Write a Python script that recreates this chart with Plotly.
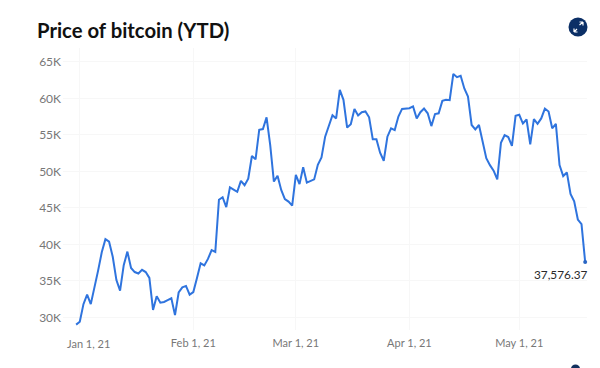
import plotly.graph_objects as go
import pandas as pd

W, H = 600, 368
L, R, T, B = 63, 13, 48, 38

start_date = "2020-12-31"
prices = [29000, 29400, 31800, 33100, 31800, 34000, 36400, 38900, 40700, 40360,
          38300, 35100, 33650, 37150, 39000, 36750, 36200, 36000, 36500, 36200,
          35400, 31000, 32900, 32000, 32100, 32350, 32600, 30300, 33400, 34100,
          34300, 33100, 33450, 35400, 37400, 37100, 38000, 39200, 38950, 46100,
          46450, 45100, 47800, 47500, 47200, 48700, 48100, 49000, 52100, 51650,
          55700, 55800, 57400, 53600, 48600, 49400, 47450, 46200, 45850, 45300,
          49500, 48250, 50550, 48450, 48700, 48900, 50900, 51900, 54750, 56100,
          57700, 57250, 61150, 59800, 56000, 56450, 58550, 57650, 58100, 58200,
          57400, 54400, 54400, 52550, 51450, 54750, 55900, 55650, 57500, 58550,
          58600, 58650, 58900, 57250, 58100, 58600, 57950, 56200, 57850, 57950,
          59650, 59800, 59750, 63350, 62900, 63100, 61350, 60250, 56350, 55750,
          56350, 53850, 51800, 50850, 50100, 48900, 53900, 54950, 54700, 53500,
          57600, 57750, 56550, 57100, 53700, 57150, 56500, 57250, 58600, 58200,
          55900, 56500, 50850, 49350, 49850, 46900, 45900, 43400, 42750, 37576.37]

dates = pd.date_range(start_date, periods=len(prices), freq="D")

title_text = "Price of bitcoin (YTD)"
y_ticks = [30000, 35000, 40000, 45000, 50000, 55000, 60000, 65000]
y_labels = ["30K", "35K", "40K", "45K", "50K", "55K", "60K", "65K"]
x_ticks = ["2021-01-01", "2021-02-01", "2021-03-01", "2021-04-01", "2021-05-01"]
x_labels = ["", "Feb 1, 21", "Mar 1, 21", "Apr 1, 21", "May 1, 21"]
first_label = "Jan 1, 21"
last_label = "37,576.37"

FONT = "Lato, 'Open Sans', sans-serif"
BLUE = "#2f74de"
GRID = "#f7f7f7"
TICK = "#777777"

def px(x):
    return (x - L) / (W - L - R)

def py(y):
    return 1 - (y - T) / (H - T - B)

fig = go.Figure()
fig.add_trace(go.Scatter(x=dates, y=prices, mode="lines",
                         line=dict(color=BLUE, width=2, shape="linear"),
                         cliponaxis=False, showlegend=False, hoverinfo="skip"))
fig.add_trace(go.Scatter(x=[dates[-1]], y=[prices[-1]], mode="markers",
                         marker=dict(color="#2a66c4", size=4),
                         cliponaxis=False, showlegend=False, hoverinfo="skip"))

shapes = [
    dict(type="circle", xref="paper", yref="paper", layer="above",
         x0=px(568.5), x1=px(587.5), y0=py(36.5), y1=py(17.5),
         fillcolor="#0b2f66", line=dict(width=0)),
    dict(type="path", xref="paper", yref="paper", layer="above",
         path=f"M {px(574)} {py(32)} L {px(577)} {py(29)} M {px(574)} {py(32)} L {px(574)} {py(28.5)} "
              f"M {px(574)} {py(32)} L {px(577.5)} {py(32)} "
              f"M {px(579.5)} {py(25)} L {px(583)} {py(22)} M {px(583)} {py(22)} L {px(579.5)} {py(22)} "
              f"M {px(583)} {py(22)} L {px(583)} {py(25.5)}",
         line=dict(color="white", width=1.2)),
    dict(type="circle", xref="paper", yref="paper", layer="above",
         x0=px(571), x1=px(580), y0=py(373), y1=py(364.5),
         fillcolor="#12305e", line=dict(width=0)),
]

annotations = [
    dict(text=f"<b>{title_text}</b>", xref="paper", yref="paper", x=px(34.5), y=py(30),
         xanchor="left", yanchor="middle", showarrow=False,
         font=dict(family=FONT, size=20.3, color="#111111")),
    dict(text=first_label, xref="paper", yref="paper", x=px(88), y=py(343.5),
         xanchor="center", yanchor="middle", showarrow=False,
         font=dict(family=FONT, size=11, color=TICK)),
    dict(text=last_label, xref="paper", yref="paper", x=px(590), y=py(274.5),
         xanchor="right", yanchor="middle", showarrow=False,
         font=dict(family=FONT, size=11.8, color="#2a2a2a")),
]

fig.update_layout(
    width=W, height=H, autosize=False,
    margin=dict(l=L, r=R, t=T, b=B, pad=0),
    paper_bgcolor="white", plot_bgcolor="white",
    shapes=shapes, annotations=annotations,
    showlegend=False,
    xaxis=dict(type="date", range=["2020-12-27 10:00", "2021-05-19 12:00"],
               tickmode="array", tickvals=x_ticks, ticktext=x_labels,
               showgrid=True, gridcolor=GRID, gridwidth=1, zeroline=False,
               showline=False, ticks="", ticklabelstandoff=5,
               tickfont=dict(family=FONT, size=11, color=TICK)),
    yaxis=dict(range=[28260, 66900], tickmode="array", tickvals=y_ticks, ticktext=y_labels,
               showgrid=True, gridcolor=GRID, gridwidth=1, zeroline=False,
               showline=False, ticks="", ticklen=0, ticklabelstandoff=1,
               tickfont=dict(family=FONT, size=12, color=TICK)),
)

fig.write_html("out.html", config=dict(displayModeBar=False),
               post_script="document.body.style.margin='0';document.body.style.overflow='hidden';")
